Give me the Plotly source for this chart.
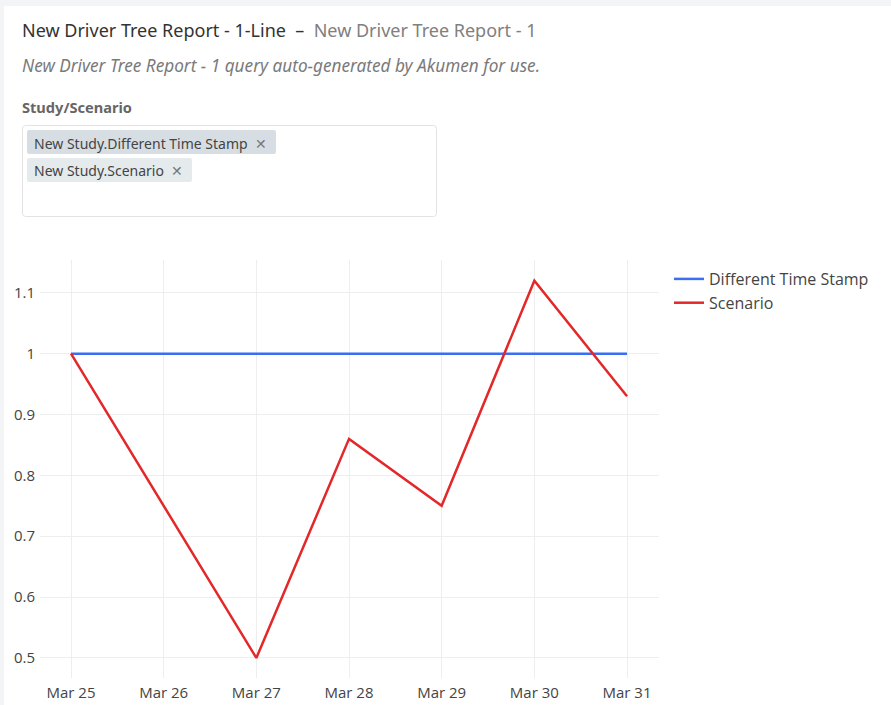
import plotly.graph_objects as go

dates = ["2024-03-25", "2024-03-26", "2024-03-27", "2024-03-28", "2024-03-29", "2024-03-30", "2024-03-31"]
diff_time_stamp = [1, 1, 1, 1, 1, 1, 1]
scenario = [1.0, 0.75, 0.5, 0.86, 0.75, 1.12, 0.93]
series_names = ["Different Time Stamp", "Scenario"]
chip_labels = ["New Study.Different Time Stamp", "New Study.Scenario"]

W, H = 891, 705
L, R, T, B = 40, 659, 260, 678

def px(x):
    return (x - L) / (R - L)

def py(y):
    return (B - y) / (B - T)

fig = go.Figure()
fig.add_trace(go.Scatter(x=dates, y=diff_time_stamp, mode="lines", name=series_names[0],
                         line=dict(color="#3b6ef5", width=2.5)))
fig.add_trace(go.Scatter(x=dates, y=scenario, mode="lines", name=series_names[1],
                         line=dict(color="#e3282a", width=2.5)))

shapes = []
shapes.append(dict(type="rect", xref="paper", yref="paper", x0=px(4), x1=px(W + 5), y0=py(6), y1=py(H + 5),
                   fillcolor="white", line=dict(width=0), layer="below"))

def rrect(x0, y0, x1, y1, r, fill, line_color, line_w):
    p = (f"M {px(x0+r)},{py(y0)} L {px(x1-r)},{py(y0)} Q {px(x1)},{py(y0)} {px(x1)},{py(y0+r)} "
         f"L {px(x1)},{py(y1-r)} Q {px(x1)},{py(y1)} {px(x1-r)},{py(y1)} "
         f"L {px(x0+r)},{py(y1)} Q {px(x0)},{py(y1)} {px(x0)},{py(y1-r)} "
         f"L {px(x0)},{py(y0+r)} Q {px(x0)},{py(y0)} {px(x0+r)},{py(y0)} Z")
    return dict(type="path", xref="paper", yref="paper", path=p, fillcolor=fill,
                line=dict(color=line_color, width=line_w), layer="below")

shapes.append(rrect(22.5, 125.5, 436.5, 216.5, 3, "white", "#e3e3e3", 1))
shapes.append(rrect(27, 130, 276, 154, 2, "#d7dee3", "rgba(0,0,0,0)", 0))
shapes.append(rrect(27, 158, 192, 182, 2, "#e5eaed", "rgba(0,0,0,0)", 0))

annotations = []
def txt(x, y, s, size, color, xanchor="left", italic=False, bold=False, family="Noto Sans"):
    if italic:
        s = f"<i>{s}</i>"
    if bold:
        s = f"<b>{s}</b>"
    annotations.append(dict(x=px(x), y=py(y), xref="paper", yref="paper", text=s, showarrow=False,
                            xanchor=xanchor, yanchor="middle", font=dict(size=size, color=color, family=family)))

txt(20, 30, "New Driver Tree Report - 1-Line&nbsp; – &nbsp;<span style='color:#808080'>New Driver Tree Report - 1</span>", 18, "#333333")
txt(20, 65, "New Driver Tree Report - 1 query auto-generated by Akumen for use.", 17.2, "#7a7a7a", italic=True)
txt(20, 107, "Study/Scenario", 14.6, "#666666", bold=True)
txt(32, 143, chip_labels[0] + "  <span style='color:#777'>✕</span>", 14, "#444444")
txt(32, 171, chip_labels[1] + "  <span style='color:#777'>✕</span>", 14, "#444444")

fig.update_layout(
    width=W, height=H,
    margin=dict(l=L, r=W - R, t=T, b=H - B, autoexpand=False),
    paper_bgcolor="#f3f4f6",
    plot_bgcolor="white",
    font=dict(family="Open Sans", size=15, color="#444"),
    shapes=shapes,
    annotations=annotations,
    legend=dict(x=px(669), y=py(262), xanchor="left", yanchor="top", font=dict(size=16, color="#444"),
                bgcolor="rgba(0,0,0,0)", tracegroupgap=0),
    xaxis=dict(type="date", range=["2024-03-24 15:58", "2024-03-31 08:17"], dtick=86400000,
               tick0="2024-03-25", tickformat="%b %d", showgrid=True, gridcolor="#eeeeee", gridwidth=1,
               zeroline=False, showline=False, ticks="", automargin=False, ticklabelstandoff=4,
               tickfont=dict(size=15, color="#444")),
    yaxis=dict(range=[0.467, 1.154], dtick=0.1, tick0=0.5, showgrid=True, gridcolor="#eeeeee",
               zeroline=False, showline=False, ticks="", automargin=False, ticklabelstandoff=4,
               tickfont=dict(size=15, color="#444")),
    hovermode=False,
)

fig.write_html("out.html")
